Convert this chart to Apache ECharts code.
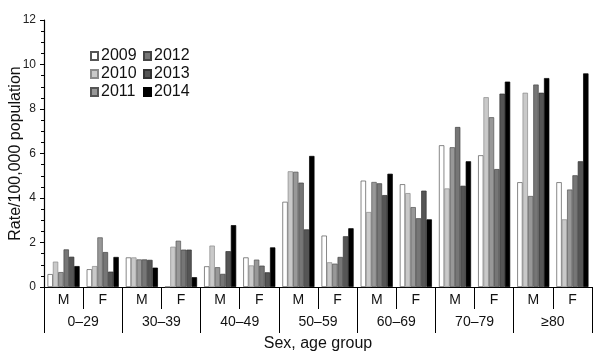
<!DOCTYPE html>
<html>
<head>
<meta charset="utf-8">
<script src="https://cdn.jsdelivr.net/npm/echarts@6/dist/echarts.min.js"></script>
<style>
  html, body { margin: 0; padding: 0; background: #fff; }
  #main { width: 600px; height: 353px; }
</style>
</head>
<body>
<div id="main"></div>
<script>
// categories: sex within age group
var sexLabels = ['M','F','M','F','M','F','M','F','M','F','M','F','M','F'];
var ageGroups = ['0\u201329','30\u201339','40\u201349','50\u201359','60\u201369','70\u201379','\u226580'];
var years = ['2009','2010','2011','2012','2013','2014'];

// rate per 100,000
var y2009 = [0.58, 0.80, 1.33, 0,    0.93, 1.33, 3.83, 2.31, 4.78, 4.62, 6.37, 5.92, 4.71, 4.71];
var y2010 = [1.14, 0.94, 1.33, 1.81, 1.86, 0.97, 5.20, 1.11, 3.37, 4.22, 4.43, 8.53, 8.73, 3.04];
var y2011 = [0.67, 2.23, 1.24, 2.08, 0.89, 1.23, 5.18, 1.05, 4.72, 3.59, 6.28, 7.63, 4.09, 4.38];
var y2012 = [1.69, 1.57, 1.24, 1.68, 0.59, 0.96, 4.69, 1.35, 4.66, 3.09, 7.19, 5.30, 9.10, 5.02];
var y2013 = [1.36, 0.69, 1.22, 1.68, 1.61, 0.66, 2.59, 2.28, 4.13, 4.33, 4.55, 8.69, 8.73, 5.65];
var y2014 = [0.94, 1.35, 0.87, 0.44, 2.78, 1.78, 5.89, 2.64, 5.09, 3.04, 5.65, 9.23, 9.39, 9.60];

var values = [y2009, y2010, y2011, y2012, y2013, y2014];
var fills = ['#ffffff', '#c9c9c9', '#989898', '#767676', '#555555', '#000000'];
var borders = ['#555555', '#8a8a8a', '#555555', '#444444', '#333333', '#000000'];

var chart = echarts.init(document.getElementById('main'), null, {renderer: 'canvas'});
var font = 'Liberation Sans, Arial, sans-serif';

var series = years.map(function(y, i){
  return {
    name: y,
    type: 'bar',
    xAxisIndex: 0,
    data: values[i],
    barGap: '0%',
    barCategoryGap: '18%',
    itemStyle: { color: fills[i], borderColor: borders[i], borderWidth: 0.7 },
    emphasis: { disabled: true }
  };
});

var legendCommon = {
  orient: 'vertical',
  icon: 'rect',
  itemWidth: 7,
  itemHeight: 8,
  itemGap: 2,
  selectedMode: false,
  textStyle: { fontFamily: font, fontSize: 16, color: '#111', padding: [0, 0, 0, -2] }
};

chart.setOption({
  animation: false,
  backgroundColor: '#fff',
  grid: { left: 44, right: 8, top: 20, bottom: 66, outerBoundsMode: 'none', containLabel: false },
  legend: [
    Object.assign({ left: 85, top: 43, data: years.slice(0, 3) }, legendCommon),
    Object.assign({ left: 138, top: 43, data: years.slice(3) }, legendCommon)
  ],
  xAxis: [
    {
      type: 'category',
      data: sexLabels,
      position: 'bottom',
      axisLine: { lineStyle: { color: '#000', width: 1.2 } },
      axisTick: { show: true, length: 22, lineStyle: { color: '#000', width: 1 } },
      axisLabel: { margin: 6, fontFamily: font, fontSize: 14, color: '#111' },
      splitLine: { show: false }
    },
    {
      type: 'category',
      data: ageGroups,
      position: 'bottom',
      axisLine: { show: false },
      axisTick: { show: true, length: 46, lineStyle: { color: '#000', width: 1 } },
      axisLabel: { margin: 28, fontFamily: font, fontSize: 14, color: '#111' },
      name: 'Sex, age group',
      nameLocation: 'middle',
      nameGap: 49,
      nameMoveOverlap: false,
      nameTextStyle: { fontFamily: font, fontSize: 16, color: '#111' },
      splitLine: { show: false }
    }
  ],
  yAxis: {
    type: 'value',
    min: 0,
    max: 12,
    interval: 2,
    name: 'Rate/100,000 population',
    nameLocation: 'middle',
    nameGap: 20,
    nameMoveOverlap: false,
    nameTextStyle: { fontFamily: font, fontSize: 16, color: '#111' },
    axisLine: { show: true, lineStyle: { color: '#000', width: 1.2 } },
    axisTick: { show: true, inside: false, length: 4, lineStyle: { color: '#000' } },
    minorTick: { show: true, splitNumber: 4, length: 3, lineStyle: { color: '#000' } },
    axisLabel: { fontFamily: font, fontSize: 12, color: '#222', margin: 8 },
    splitLine: { show: false }
  },
  series: series
});
</script>
</body>
</html>
